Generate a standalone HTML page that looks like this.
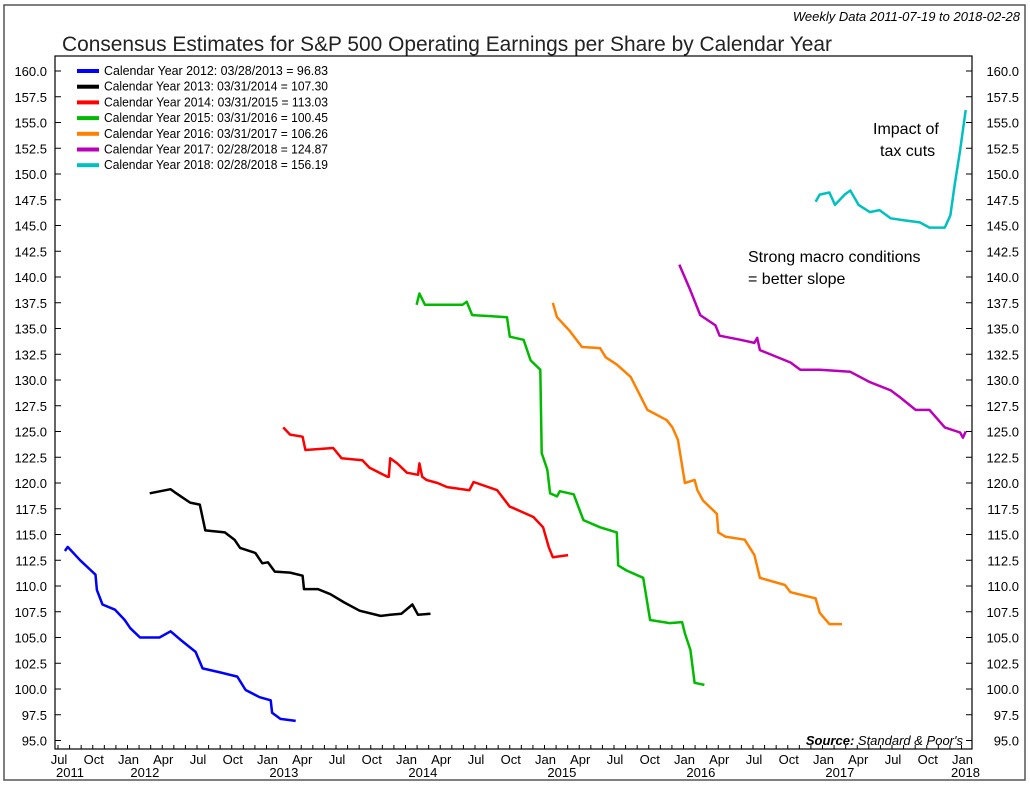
<!DOCTYPE html>
<html><head><meta charset="utf-8">
<style>
body{margin:0;background:#fff;}
svg text{font-family:"Liberation Sans",sans-serif;}
</style></head>
<body>
<svg id="c" width="1030" height="784" xmlns="http://www.w3.org/2000/svg">
<rect x="4" y="5" width="1021" height="775" fill="#fff" stroke="#555" stroke-width="1.5"/>
<text x="1020" y="21" font-size="13" font-style="italic" text-anchor="end">Weekly Data 2011-07-19 to 2018-02-28</text>
<text x="62" y="51" font-size="21" fill="#222" textLength="770" lengthAdjust="spacingAndGlyphs">Consensus Estimates for S&amp;P 500 Operating Earnings per Share by Calendar Year</text>
<rect x="55" y="56" width="917" height="693" fill="none" stroke="#000" stroke-width="1.2"/>
<g id="axes"></g>
<g id="series"></g>
<g id="legend"></g>
<text x="873" y="134" font-size="16">Impact of</text>
<text x="880" y="156" font-size="16">tax cuts</text>
<text x="748" y="262" font-size="16">Strong macro conditions</text>
<text x="748" y="284" font-size="16">= better slope</text>
<text x="963" y="745" font-size="13" text-anchor="end" font-style="italic"><tspan font-weight="bold">Source:</tspan>  Standard &amp; Poor's</text>
</svg>
<script>
const yTicks=[95,97.5,100,102.5,105,107.5,110,112.5,115,117.5,120,122.5,125,127.5,130,132.5,135,137.5,140,142.5,145,147.5,150,152.5,155,157.5,160];
const xMonthLabels=["Jul","Oct","Jan","Apr","Jul","Oct","Jan","Apr","Jul","Oct","Jan","Apr","Jul","Oct","Jan","Apr","Jul","Oct","Jan","Apr","Jul","Oct","Jan","Apr","Jul","Oct","Jan"];
const xYearLabels=["2011","2012","2013","2014","2015","2016","2017","2018"];
const seriesNames=["Calendar Year 2012:  03/28/2013 = 96.83","Calendar Year 2013:  03/31/2014 = 107.30","Calendar Year 2014:  03/31/2015 = 113.03","Calendar Year 2015:  03/31/2016 = 100.45","Calendar Year 2016:  03/31/2017 = 106.26","Calendar Year 2017:  02/28/2018 = 124.87","Calendar Year 2018:  02/28/2018 = 156.19"];
const seriesColors=["#0000ff","#000000","#ff0000","#00bb00","#ff8000","#bb00bb","#00c0c0"];
const t2012=[2011.55,2011.57,2011.66,2011.73,2011.77,2011.78,2011.82,2011.91,2011.98,2012.02,2012.09,2012.23,2012.31,2012.38,2012.49,2012.54,2012.67,2012.79,2012.85,2012.95,2013.03,2013.04,2013.10,2013.21];
const v2012=[113.4,113.8,112.5,111.6,111.1,109.6,108.2,107.7,106.7,105.9,105.0,105.0,105.6,104.8,103.6,102.0,101.6,101.2,99.9,99.2,98.9,97.7,97.1,96.9];
const t2013=[2012.16,2012.31,2012.34,2012.45,2012.52,2012.56,2012.70,2012.77,2012.81,2012.92,2012.97,2013.01,2013.06,2013.17,2013.26,2013.27,2013.37,2013.46,2013.56,2013.67,2013.82,2013.89,2013.97,2014.05,2014.09,2014.18];
const v2013=[119.0,119.4,119.1,118.1,117.9,115.4,115.2,114.5,113.7,113.2,112.2,112.3,111.4,111.3,111.0,109.7,109.7,109.2,108.4,107.6,107.1,107.2,107.3,108.2,107.2,107.3];
const t2014=[2013.12,2013.17,2013.26,2013.28,2013.48,2013.54,2013.69,2013.74,2013.87,2013.88,2013.89,2013.94,2014.01,2014.09,2014.10,2014.12,2014.15,2014.23,2014.30,2014.46,2014.49,2014.66,2014.75,2014.77,2014.92,2014.99,2015.03,2015.06,2015.17];
const v2014=[125.4,124.7,124.5,123.2,123.4,122.4,122.2,121.5,120.6,120.6,122.4,121.9,121.0,120.8,121.9,120.6,120.3,120.0,119.6,119.3,120.1,119.3,117.7,117.6,116.7,115.7,113.8,112.8,113.0];
const t2015=[2014.08,2014.10,2014.14,2014.15,2014.41,2014.44,2014.48,2014.61,2014.73,2014.75,2014.85,2014.90,2014.97,2014.98,2015.02,2015.04,2015.09,2015.11,2015.21,2015.28,2015.40,2015.52,2015.53,2015.59,2015.71,2015.76,2015.90,2015.99,2016.01,2016.05,2016.08,2016.15];
const v2015=[137.3,138.4,137.3,137.3,137.3,137.6,136.3,136.2,136.1,134.2,133.9,131.9,131.0,122.9,121.3,119.0,118.7,119.2,118.9,116.4,115.7,115.2,112.0,111.5,110.8,106.7,106.4,106.5,105.4,103.8,100.6,100.4];
const t2016=[2015.06,2015.09,2015.18,2015.27,2015.40,2015.44,2015.52,2015.62,2015.74,2015.88,2015.92,2015.96,2016.01,2016.08,2016.10,2016.14,2016.24,2016.25,2016.30,2016.44,2016.51,2016.55,2016.73,2016.77,2016.95,2016.98,2017.05,2017.14];
const v2016=[137.5,136.1,134.8,133.2,133.1,132.2,131.5,130.3,127.1,126.1,125.4,124.2,120.0,120.3,119.3,118.3,117.0,115.2,114.8,114.5,113.0,110.8,110.1,109.4,108.8,107.4,106.3,106.3];
const t2017=[2015.97,2016.05,2016.12,2016.23,2016.26,2016.41,2016.51,2016.53,2016.55,2016.77,2016.84,2016.98,2017.20,2017.34,2017.49,2017.56,2017.67,2017.77,2017.88,2017.99,2018.01,2018.03];
const v2017=[141.2,138.7,136.3,135.3,134.3,133.9,133.6,134.1,132.9,131.7,131.0,131.0,130.8,129.8,129.0,128.3,127.1,127.1,125.4,124.9,124.4,125.0];
const t2018=[2016.95,2016.98,2017.05,2017.09,2017.16,2017.20,2017.26,2017.34,2017.41,2017.49,2017.59,2017.70,2017.77,2017.88,2017.92,2017.95,2017.99,2018.03];
const v2018=[147.3,148.0,148.2,147.0,148.0,148.4,147.0,146.3,146.5,145.7,145.5,145.3,144.8,144.8,146.0,148.9,152.3,156.2];
const seriesT=[t2012,t2013,t2014,t2015,t2016,t2017,t2018];
const seriesV=[v2012,v2013,v2014,v2015,v2016,v2017,v2018];

const NS="http://www.w3.org/2000/svg";
function X(t){return 58+(t-2011.5)*139;}
function Y(v){return 71+(160-v)*10.3;}
function mk(tag,attrs,parent){const e=document.createElementNS(NS,tag);for(const k in attrs)e.setAttribute(k,attrs[k]);parent.appendChild(e);return e;}
const axes=document.getElementById('axes');
yTicks.forEach(v=>{
  const y=Y(v);
  let l=mk('line',{x1:55,x2:61,y1:y,y2:y,stroke:'#000'},axes);
  
  
  l=mk('line',{x1:966,x2:972,y1:y,y2:y,stroke:'#000'},axes);
  
  
  let t=mk('text',{x:47,y:y+5,'font-size':13,'text-anchor':'end'},axes);t.textContent=v.toFixed(1);
  
  
  t=mk('text',{x:1019,y:y+5,'font-size':13,'text-anchor':'end'},axes);t.textContent=v.toFixed(1);
  
  
});
for(let m=0;m<81;m++){
  const x=X(2011.5+m/12);
  if(x>972)break;
  const l=mk('line',{x1:x,x2:x,y1:749,y2:745,stroke:'#000'},axes);
  
  
}
xMonthLabels.forEach((s,i)=>{
  const t=mk('text',{x:X(2011.5+i*0.25)+1,y:764,'font-size':13,'text-anchor':'middle'},axes);t.textContent=s;
  
  
});
xYearLabels.forEach((s,i)=>{
  const yr=2011+i;
  const x=i===0?X(2011.5)+12:(i===7?X(2018)+4:X(yr+0.125));
  const t=mk('text',{x:x,y:777,'font-size':13,'text-anchor':'middle'},axes);t.textContent=s;
  
  
});
const sg=document.getElementById('series');
seriesT.forEach((ts,i)=>{
  const d=ts.map((t,j)=>(j?'L':'M')+X(t).toFixed(1)+' '+Y(seriesV[i][j]).toFixed(1)).join(' ');
  const p=mk('path',{d:d,fill:'none',stroke:seriesColors[i],'stroke-width':2.5,'stroke-linejoin':'round'},sg);
  
  
});
const lg=document.getElementById('legend');
seriesNames.forEach((s,i)=>{
  const y=71+i*15.7;
  const r=mk('rect',{x:77,y:y-2,width:22,height:4,fill:seriesColors[i]},lg);
  
  
  const t=mk('text',{x:104,y:y+4,'font-size':12.5,textLength:224,lengthAdjust:'spacingAndGlyphs'},lg);t.textContent=s;
  
  
});
</script>
</body></html>
